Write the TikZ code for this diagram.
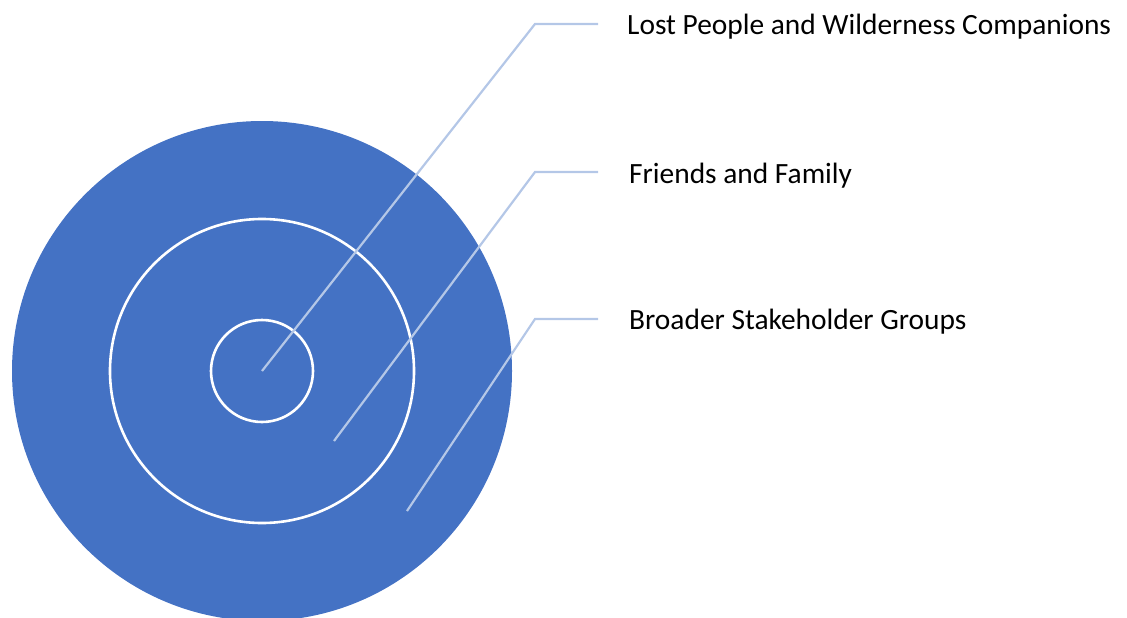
\documentclass[tikz,border=0pt]{standalone}
\usepackage{fontspec}
\setmainfont{Carlito}
\usetikzlibrary{calc}

\definecolor{ringblue}{HTML}{4472C4}
\definecolor{leaderblue}{HTML}{B4C7E7}

\begin{document}
\begin{tikzpicture}[x=1pt,y=-1pt]
  \useasboundingbox (0,0) rectangle (1127,618);
  \coordinate (centre) at (262,371);
  % rings, outside in
  \begin{scope}[
    every node/.style={
      circle,
      anchor=center,
      inner sep=0pt,
    },
    ]
    \node[fill=ringblue, minimum size=500pt] (outer) at (centre) {};
    \node[draw=white, line width=2.6pt, minimum size=304pt] (middle) at (centre) {};
    \node[draw=white, line width=2.6pt, minimum size=102pt] (inner) at (centre) {};
  \end{scope}
  % labels
  \begin{scope}[
    every node/.style={
      anchor=base west,
      inner sep=0pt,
      font=\fontsize{29.4}{34}\selectfont,
    },
    ]
    \node (lost)    at (627,35)  {Lost People and Wilderness Companions};
    \node (friends) at (629,183) {Friends and Family};
    \node (broader) at (629,329) {Broader Stakeholder Groups};
  \end{scope}
  % leader lines: start in a ring, bend, run right to the label
  \coordinate (inpt)   at (centre);
  \coordinate (midpt)  at (334,441);
  \coordinate (outpt)  at (407,511);
  \coordinate (knee1)  at (535,24);
  \coordinate (knee2)  at (535,172);
  \coordinate (knee3)  at (535,319);
  \coordinate (tip1)   at ($(knee1)+(63,0)$);
  \coordinate (tip2)   at ($(knee2)+(63,0)$);
  \coordinate (tip3)   at ($(knee3)+(63,0)$);
  \begin{scope}[
    every path/.style={draw=leaderblue,line width=2.2pt},
    ]
    \path (inpt)  -- (knee1) -- (tip1);
    \path (midpt) -- (knee2) -- (tip2);
    \path (outpt) -- (knee3) -- (tip3);
  \end{scope}
\end{tikzpicture}
\end{document}
